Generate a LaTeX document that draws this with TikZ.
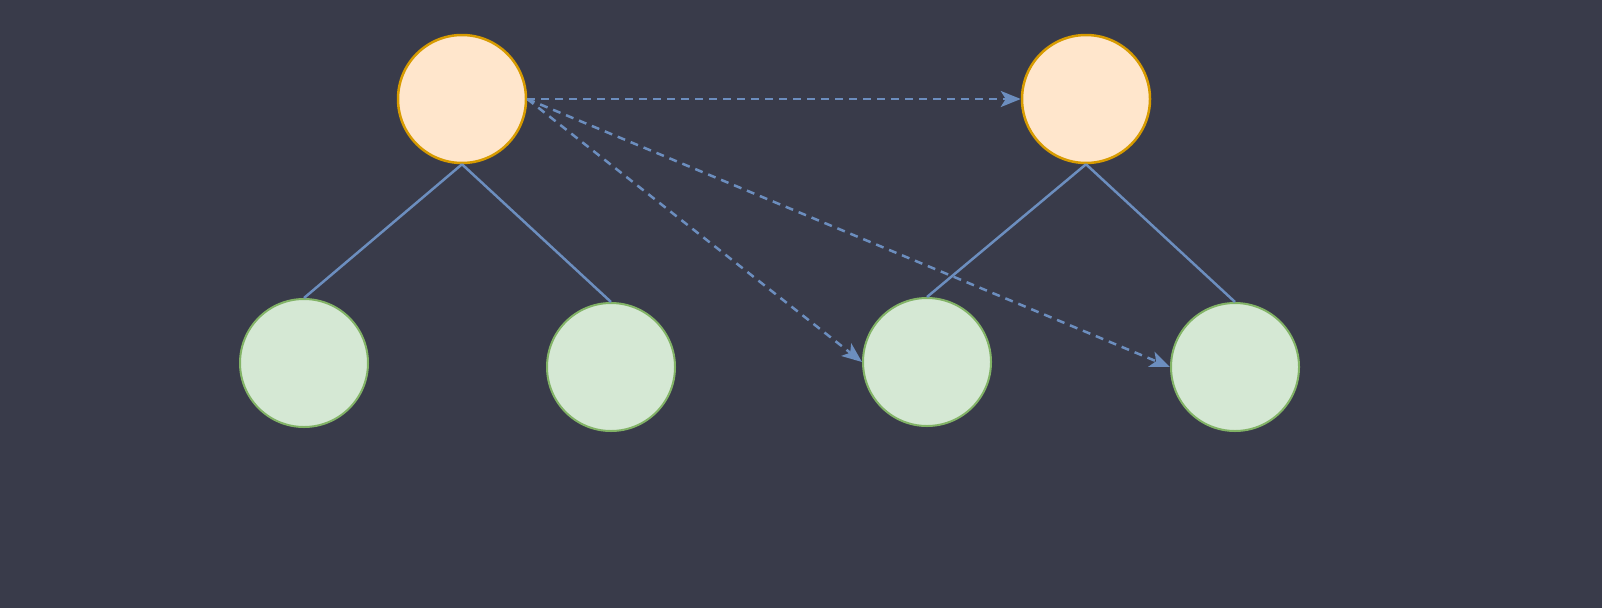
\documentclass[tikz,border=0pt]{standalone}
\usetikzlibrary{arrows.meta}
\definecolor{bg}{HTML}{393B4A}
\definecolor{ofill}{HTML}{FFE6CC}
\definecolor{odraw}{HTML}{D79B00}
\definecolor{gfill}{HTML}{D5E8D4}
\definecolor{gdraw}{HTML}{82B366}
\definecolor{edge}{HTML}{6C8EBF}
\tikzset{
  onode/.style={circle,fill=ofill,draw=odraw,line width=2.5pt,minimum size=128pt,inner sep=0pt},
  gnode/.style={circle,fill=gfill,draw=gdraw,line width=2pt,minimum size=128pt,inner sep=0pt},
  treeedge/.style={draw=edge,line width=2.5pt},
  linkedge/.style={draw=edge,line width=2.5pt,dash pattern=on 8pt off 6pt,-{Stealth[length=20pt,width=16pt,inset=5pt]}}
}
\begin{document}
\begin{tikzpicture}[x=1pt,y=-1pt]
\useasboundingbox (0,0) rectangle (1602,608);
\fill[bg] (0,0) rectangle (1602,608);
\node[onode] (r1) at (462,99) {};
\node[onode] (r2) at (1086,99) {};
\node[gnode] (a1) at (304,363) {};
\node[gnode] (a2) at (611,367) {};
\node[gnode] (b1) at (927,362) {};
\node[gnode] (b2) at (1235,367) {};
\draw[treeedge] (r1.south) -- (a1.north);
\draw[treeedge] (r1.south) -- (a2.north);
\draw[treeedge] (r2.south) -- (b1.north);
\draw[treeedge] (r2.south) -- (b2.north);
\draw[linkedge] (r1.east) -- (r2.west);
\draw[linkedge] (r1.east) -- (b1.west);
\draw[linkedge] (r1.east) -- (b2.west);
\end{tikzpicture}
\end{document}
